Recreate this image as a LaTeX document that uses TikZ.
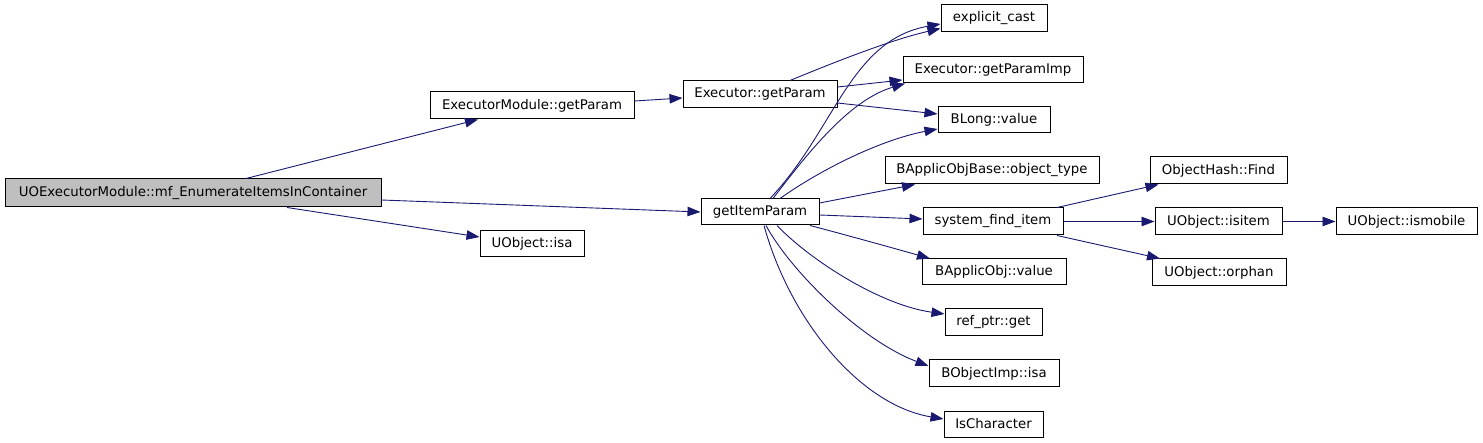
\documentclass[tikz,border=0pt]{standalone}
\usepackage{fontspec}
\setmainfont{DejaVu Sans}
\usetikzlibrary{arrows.meta}
\definecolor{edgecol}{HTML}{191970}
\definecolor{mainfill}{HTML}{BFBFBF}
\begin{document}
\begin{tikzpicture}[x=1pt,y=-1pt,
  box/.style={draw=black, line width=1pt, inner sep=0pt, fill=white,
    font=\fontsize{13.3}{15}\selectfont},
  call/.style={draw=edgecol, line width=0.9pt, -{Triangle[length=13pt,width=9.5pt]}}]
\useasboundingbox (0,0) rectangle (1483,443);
% nodes
\node[box, fill=mainfill, minimum width=376pt, minimum height=28pt] (m) at (193,193) {UOExecutorModule::mf\_EnumerateItemsInContainer};
\node[box, minimum width=204pt, minimum height=27pt] (emg) at (532,105.5) {ExecutorModule::getParam};
\node[box, minimum width=104pt, minimum height=26pt] (uisa) at (532,244) {UObject::isa};
\node[box, minimum width=154pt, minimum height=27pt] (eg) at (760,94.5) {Executor::getParam};
\node[box, minimum width=118pt, minimum height=26pt] (gip) at (760,212) {getItemParam};
\node[box, minimum width=106pt, minimum height=27pt] (ec) at (994,18.5) {explicit\_cast};
\node[box, minimum width=180pt, minimum height=26pt] (egi) at (993,70) {Executor::getParamImp};
\node[box, minimum width=112pt, minimum height=26pt] (bl) at (994,120) {BLong::value};
\node[box, minimum width=214pt, minimum height=27pt] (bot) at (992,170.5) {BApplicObjBase::object\_type};
\node[box, minimum width=140pt, minimum height=27pt] (sfi) at (993,221.5) {system\_find\_item};
\node[box, minimum width=144pt, minimum height=26pt] (bav) at (994,272) {BApplicObj::value};
\node[box, minimum width=97pt, minimum height=27pt] (rpg) at (993.5,322.5) {ref\_ptr::get};
\node[box, minimum width=130pt, minimum height=27pt] (boi) at (994,373.5) {BObjectImp::isa};
\node[box, minimum width=99pt, minimum height=26pt] (isc) at (993.5,424) {IsCharacter};
\node[box, minimum width=137pt, minimum height=27pt] (ohf) at (1218.5,170.5) {ObjectHash::Find};
\node[box, minimum width=127pt, minimum height=27pt] (uii) at (1218.5,221.5) {UObject::isitem};
\node[box, minimum width=141pt, minimum height=27pt] (uim) at (1406.5,221.5) {UObject::ismobile};
\node[box, minimum width=134pt, minimum height=27pt] (uor) at (1219,272.5) {UObject::orphan};
% edges
\draw[call] ([xshift=53pt]m.north) -- ([xshift=-54pt]emg.south);
\draw[call] ([yshift=-7pt]m.east) -- (gip.west);
\draw[call] ([xshift=94pt]m.south) -- ([yshift=7pt]uisa.west);
\draw[call] ([yshift=4.5pt]emg.east) -- ([yshift=-3.5pt]eg.west);
\draw[call] ([xshift=30pt]eg.north) .. controls (830,64) and (890,40) .. ([yshift=-10pt]ec.west);
\draw[call] ([yshift=7.5pt]eg.east) -- ([yshift=-10pt]egi.west);
\draw[call] ([yshift=-8.5pt]eg.east) -- ([yshift=6pt]bl.west);
\draw[call] ([xshift=10pt]gip.north) .. controls (835,130) and (850,40) .. ([yshift=-5.5pt]ec.west);
\draw[call] ([xshift=13pt]gip.north) .. controls (810,150) and (850,100) .. ([xshift=-88pt]egi.south);
\draw[call] ([xshift=20pt]gip.north) .. controls (820,170) and (880,140) .. ([yshift=-9pt]bl.west);
\draw[call] ([yshift=9pt]gip.east) -- ([xshift=-77pt]bot.south);
\draw[call] ([yshift=-3pt]gip.east) -- ([yshift=2.5pt]sfi.west);
\draw[call] ([xshift=50pt]gip.south) .. controls (850,236) and (900,250) .. ([xshift=-64pt]bav.north);
\draw[call] ([xshift=17pt]gip.south) .. controls (810,260) and (880,305) .. ([yshift=8.5pt]rpg.west);
\draw[call] ([xshift=6pt]gip.south) .. controls (790,270) and (860,340) .. ([yshift=7.5pt]boi.west);
\draw[call] ([xshift=4pt]gip.south) .. controls (790,320) and (860,405) .. ([yshift=5pt]isc.west);
\draw[call] ([xshift=64pt]sfi.north) -- ([xshift=-60pt]ohf.south);
\draw[call] (sfi.east) -- (uii.west);
\draw[call] ([xshift=64pt]sfi.south) -- ([xshift=-59pt]uor.north);
\draw[call] (uii.east) -- (uim.west);
\end{tikzpicture}
\end{document}
